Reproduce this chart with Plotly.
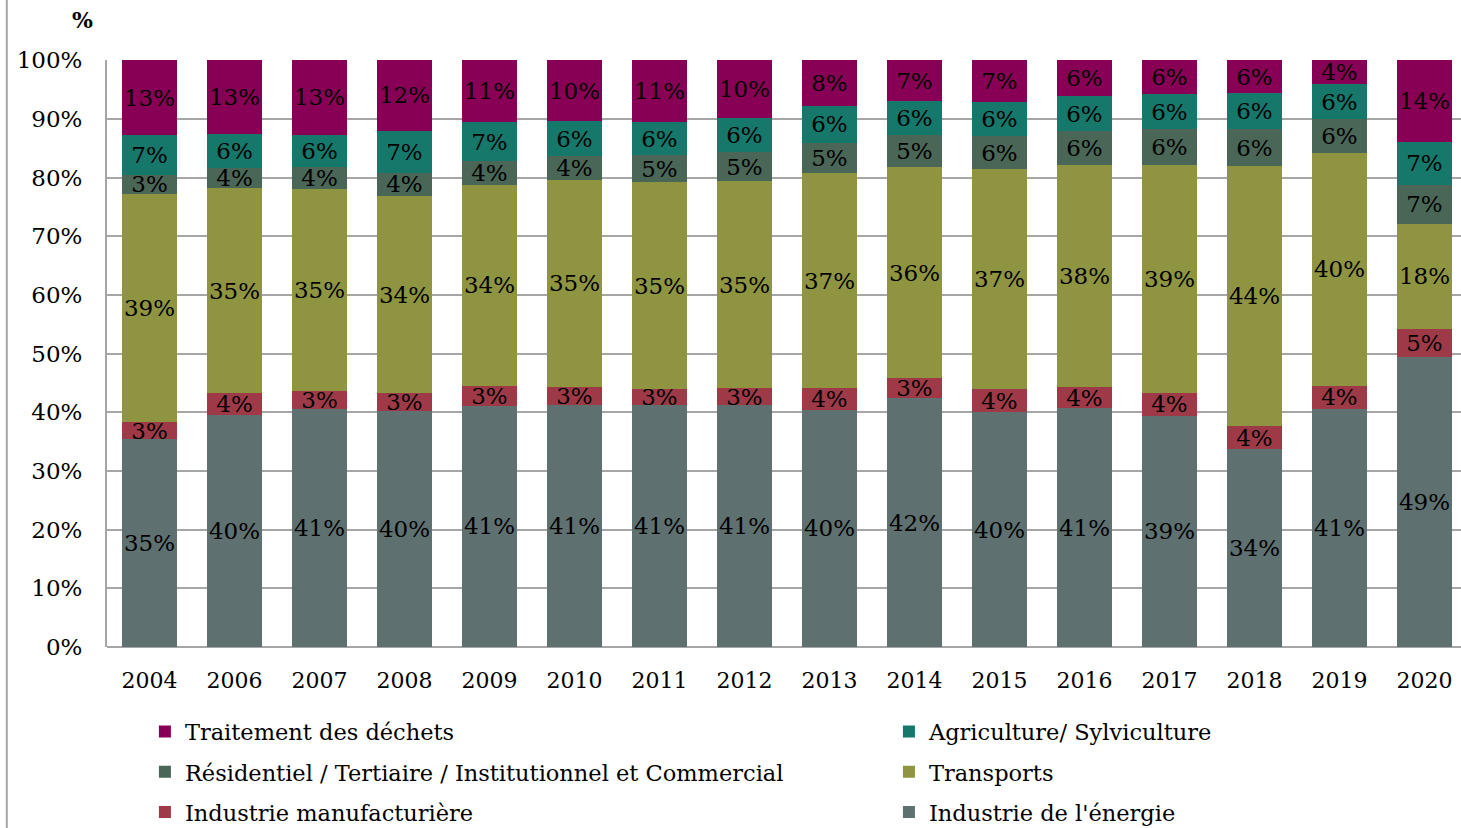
import plotly.graph_objects as go

years = ['2004', '2006', '2007', '2008', '2009', '2010', '2011', '2012',
         '2013', '2014', '2015', '2016', '2017', '2018', '2019', '2020']

# parts (%), bottom to top of each bar
energie = [35.4, 39.6, 40.6, 40.3, 41.1, 41.2, 41.2, 41.2, 40.4, 42.4, 40.0, 40.7, 39.4, 33.7, 40.6, 49.4]
manufacturiere = [2.9, 3.7, 3.0, 2.9, 3.4, 3.1, 2.8, 2.9, 3.7, 3.4, 4.0, 3.6, 3.9, 4.0, 3.9, 4.8]
transports = [38.9, 34.9, 34.5, 33.7, 34.3, 35.3, 35.2, 35.3, 36.6, 36.0, 37.4, 37.8, 38.8, 44.2, 39.7, 17.9]
residentiel = [3.3, 3.5, 3.7, 3.9, 4.0, 4.0, 4.6, 4.9, 5.2, 5.4, 5.7, 5.8, 6.1, 6.3, 5.7, 6.7]
agriculture = [6.7, 5.7, 5.5, 7.2, 6.6, 6.0, 5.6, 5.8, 6.3, 5.8, 5.8, 6.0, 6.1, 6.2, 6.0, 7.2]
dechets = [12.8, 12.6, 12.7, 12.0, 10.6, 10.4, 10.6, 9.9, 7.8, 7.0, 7.1, 6.1, 5.7, 5.6, 4.1, 14.0]

y_ticks = list(range(0, 101, 10))

# name, values, colour, legend column, rank in that column
series = [
    ("Industrie de l'énergie", energie, '#5f7070', 'legend2', 3),
    ("Industrie manufacturière", manufacturiere, '#9e3a48', 'legend', 3),
    ("Transports", transports, '#8e943f', 'legend2', 2),
    ("Résidentiel / Tertiaire / Institutionnel et Commercial", residentiel, '#4a6656', 'legend', 2),
    ("Agriculture/ Sylviculture", agriculture, '#15786b', 'legend2', 1),
    ("Traitement des déchets", dechets, '#880055', 'legend', 1),
]

FONT = "DejaVu Serif"

fig = go.Figure()
for name, vals, col, leg, rank in series:
    fig.add_trace(go.Bar(
        x=years, y=vals, name=name, legend=leg, legendgroup=name, legendrank=rank,
        marker=dict(color=col, line=dict(width=0)),
        texttemplate='%{y:.0f}%', textposition='inside', insidetextanchor='middle',
        textangle=0, constraintext='none', cliponaxis=False,
        textfont=dict(family=FONT, size=23, color='black'),
        hovertemplate='%{x}: %{y:.1f}%<extra>' + name + '</extra>',
    ))

fig.update_layout(
    barmode='stack', bargap=0.35,
    width=1461, height=828,
    paper_bgcolor='white', plot_bgcolor='white',
    margin=dict(l=107, r=0, t=60, b=181, autoexpand=False),
    uniformtext=dict(mode='show', minsize=23),
    font=dict(family=FONT, size=22, color='black'),
    xaxis=dict(range=[-0.5, 15.43], showline=False, ticks='', tickfont=dict(size=22),
               ticklabelstandoff=18),
    yaxis=dict(range=[0, 100.03], tickmode='array', tickvals=y_ticks,
               ticktext=[f'{v}%' for v in y_ticks], showgrid=True,
               gridcolor='#a6a6a6', gridwidth=2, showline=True, linecolor='#a6a6a6',
               linewidth=2, zeroline=True, zerolinecolor='#a6a6a6', zerolinewidth=2,
               tickfont=dict(size=23), ticklabelstandoff=18),
    legend=dict(x=0.028, y=-0.108, xanchor='left', yanchor='top', traceorder='grouped',
                tracegroupgap=8, font=dict(size=22.5), itemclick=False),
    legend2=dict(x=0.5775, y=-0.108, xanchor='left', yanchor='top', traceorder='grouped',
                 tracegroupgap=8, font=dict(size=22.5), itemclick=False),
    annotations=[dict(text='<b>%</b>', xref='paper', yref='paper', x=-0.009, y=1.068,
                      xanchor='right', yanchor='middle', showarrow=False, font=dict(size=22))],
    shapes=[dict(type='line', xref='paper', yref='paper', x0=-0.074, x1=-0.074, y0=-0.32, y1=1.12,
                 line=dict(color='#a6a6a6', width=2))],
)

fig.write_html("out.html", config={'displayModeBar': False},
               post_script="document.body.style.margin='0';document.body.style.overflow='hidden';")
